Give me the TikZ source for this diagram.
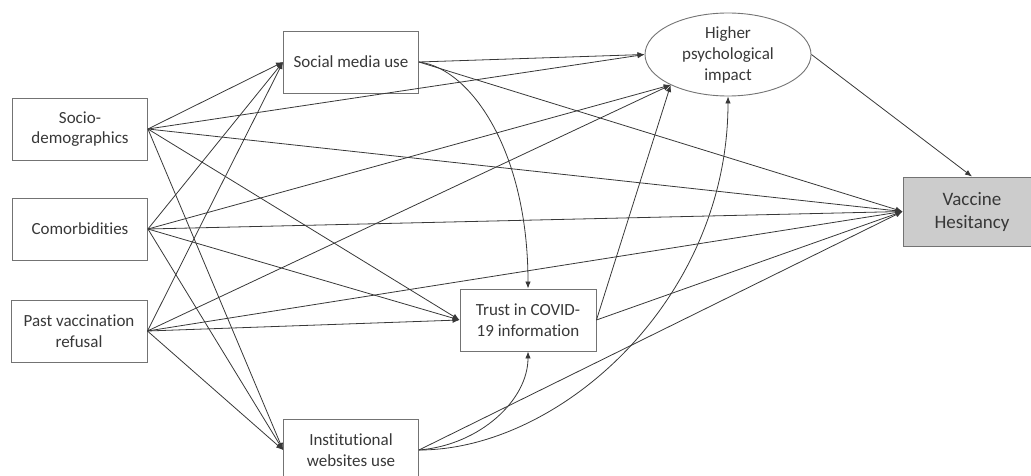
\documentclass[tikz,border=0pt]{standalone}
\usepackage{fontspec}
\setmainfont{Carlito}[Ligatures=NoCommon]
\usetikzlibrary{arrows.meta,shapes.geometric}
\begin{document}
\begin{tikzpicture}[x=1pt,y=-1pt,
  every node/.style={font=\fontsize{17}{20.5}\selectfont,text=black!78,align=center},
  var/.style={draw=black!55,line width=0.9pt,minimum width=135pt,minimum height=62pt,inner sep=1pt},
  link/.style={draw=black!78,line width=0.8pt,-{Latex[length=7pt,width=5.5pt]}}]
  \useasboundingbox (0,0) rectangle (1031,476);
  % exogenous variables
  \node[var] (socio) at (80,129) {Socio-\\demographics};
  \node[var] (comorb) at (80,229) {Comorbidities};
  \node[var,minimum width=136pt] (past) at (79,331) {Past vaccination\\refusal};
  % mediators
  \node[var] (smu) at (351,62) {Social media use};
  \node[var] (inst) at (351,450) {Institutional\\websites use};
  \node[var,minimum width=136pt] (trust) at (528,320) {Trust in COVID-\\19 information};
  \node[draw=black!55,line width=0.9pt,ellipse,minimum width=166pt,minimum height=83pt,inner sep=0pt,
        font=\fontsize{17}{21}\selectfont] (hpi) at (728,54.5) {Higher\\psychological\\impact};
  % outcome
  \node[var,fill=black!20,minimum width=138pt,minimum height=69pt,
        font=\fontsize{19}{23}\selectfont] (vh) at (972,211.5) {Vaccine\\Hesitancy};
  % socio-demographics
  \draw[link] (socio.east) -- (smu.west);
  \draw[link] (socio.east) -- (hpi.west);
  \draw[link] (socio.east) -- (vh.west);
  \draw[link] (socio.east) -- (trust.west);
  \draw[link] (socio.east) -- (inst.west);
  % comorbidities
  \draw[link] (comorb.east) -- (smu.west);
  \draw[link] (comorb.east) -- (hpi.208);
  \draw[link] (comorb.east) -- (vh.west);
  \draw[link] (comorb.east) -- (trust.west);
  \draw[link] (comorb.east) -- (inst.west);
  % past refusal
  \draw[link] (past.east) -- (smu.west);
  \draw[link] (past.east) -- (hpi.208);
  \draw[link] (past.east) -- (vh.west);
  \draw[link] (past.east) -- (trust.west);
  \draw[link] (past.east) -- (inst.west);
  % mediators
  \draw[link] (smu.east) -- (hpi.west);
  \draw[link] (smu.east) -- (vh.west);
  \draw[link] (smu.east) .. controls (470,68) and (528,150) .. (trust.north);
  \draw[link] (inst.east) .. controls (480,445) and (528,400) .. (trust.south);
  \draw[link] (inst.east) .. controls (560,450) and (728,300) .. (hpi.south);
  \draw[link] (inst.east) -- (vh.west);
  \draw[link] (trust.east) -- (hpi.208);
  \draw[link] (trust.east) -- (vh.west);
  \draw[link] (hpi.east) -- (vh.north);
\end{tikzpicture}
\end{document}
